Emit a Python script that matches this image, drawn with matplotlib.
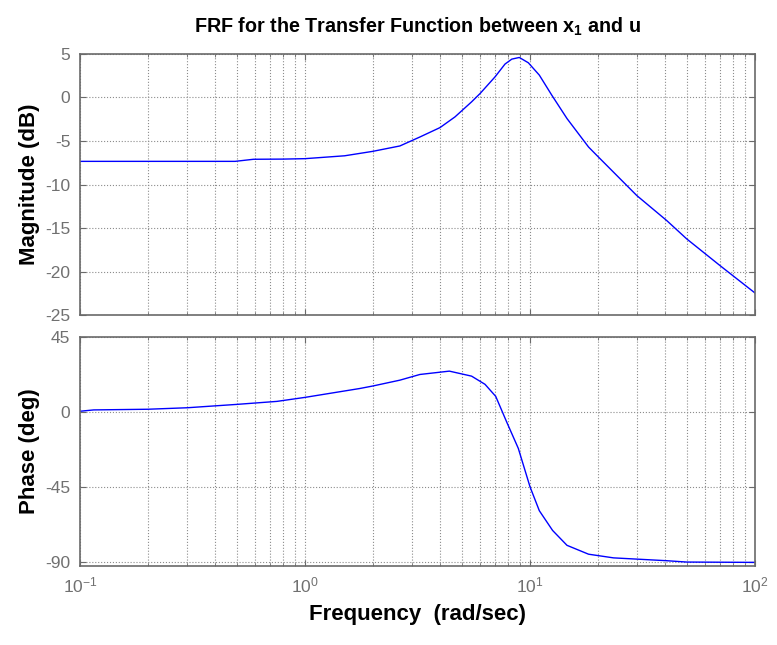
import numpy as np
import matplotlib
matplotlib.use("Agg")
import matplotlib.pyplot as plt
from matplotlib.ticker import LogLocator, NullFormatter, FixedLocator

plt.rcParams['font.family'] = ['Liberation Sans', 'DejaVu Sans']
plt.rcParams['mathtext.fontset'] = 'custom'
plt.rcParams['mathtext.rm'] = 'Liberation Sans'
plt.rcParams['mathtext.bf'] = 'Liberation Sans:bold'
plt.rcParams['axes.unicode_minus'] = False

# magnitude curve
mag_freq = [0.1, 0.2, 0.3, 0.489, 0.59, 0.8, 1.0, 1.5, 2.0, 2.64, 3.24, 3.98, 4.64,
            5.5, 6.0, 6.99, 7.74, 8.3, 8.96, 9.83, 11.0, 12.5, 14.6, 18.2, 19.8,
            29.8, 40.5, 49.7, 69.9, 100]
mag_db = [-7.34, -7.34, -7.34, -7.34, -7.1, -7.08, -7.03, -6.7, -6.19, -5.57, -4.54,
          -3.46, -2.23, -0.5, 0.46, 2.37, 3.84, 4.41, 4.6, 3.99, 2.57, 0.26, -2.42,
          -5.69, -6.65, -11.26, -14.14, -16.25, -19.32, -22.47]

# phase curve
ph_freq = [0.1, 0.115, 0.2, 0.3, 0.497, 0.75, 1.0, 1.75, 2.0, 2.64, 3.24, 4.38, 5.5,
           6.31, 7.04, 7.88, 8.87, 10.0, 11.0, 12.6, 14.6, 18.2, 23.5, 40.5, 49.7, 100]
ph_deg = [0.4, 1.2, 1.6, 2.5, 4.5, 6.3, 8.7, 14.0, 15.5, 19.0, 22.4, 24.4, 21.4,
          16.5, 9.3, -6.1, -21.8, -44.8, -59.1, -70.9, -79.8, -85.1, -87.3, -89.0,
          -89.8, -90.0]

mag_ticks = [5, 0, -5, -10, -15, -20, -25]
ph_ticks = [45, 0, -45, -90]

fig = plt.figure(figsize=(7.77, 6.45), dpi=100)
ax1 = fig.add_axes([0.103, 0.5116, 0.8687, 0.4047])
ax2 = fig.add_axes([0.103, 0.1229, 0.8687, 0.3551])

edge = '#6a6a6a'
for ax in (ax1, ax2):
    ax.set_xscale('log')
    ax.set_xlim(0.1, 100)
    ax.xaxis.set_major_locator(LogLocator(base=10, numticks=10))
    ax.xaxis.set_minor_locator(LogLocator(base=10, subs=np.arange(2, 10), numticks=10))
    ax.xaxis.set_minor_formatter(NullFormatter())
    ax.grid(True, which='both', axis='x', color='#8c8c8c', linestyle=':', linewidth=0.8)
    ax.grid(True, which='major', axis='y', color='#8c8c8c', linestyle=':', linewidth=0.8)
    ax.tick_params(which='both', direction='in', top=True, right=True,
                   colors=edge, labelcolor='#707070', labelsize=12.5)
    ax.tick_params(which='major', length=4, pad=7)
    ax.tick_params(which='minor', length=2.5)
    for s in ax.spines.values():
        s.set_color(edge)
        s.set_linewidth(1.2)

ax1.plot(mag_freq, mag_db, color='#0000ff', linewidth=1.0)
ax1.set_ylim(-25, 5)
ax1.yaxis.set_major_locator(FixedLocator(mag_ticks))
ax1.tick_params(axis='x', labelbottom=False)
ax1.set_ylabel('Magnitude (dB)', fontsize=16, fontweight='bold', labelpad=4)
ax1.set_title('FRF for the Transfer Function between x$_\\mathbf{1}$ and u',
              fontsize=14.2, fontweight='bold', pad=15)

ax2.plot(ph_freq, ph_deg, color='#0000ff', linewidth=1.0)
ax2.set_ylim(-92, 45)
ax2.yaxis.set_major_locator(FixedLocator(ph_ticks))
ax2.set_ylabel('Phase (deg)', fontsize=16, fontweight='bold', labelpad=4)
ax2.set_xlabel('Frequency  (rad/sec)', fontsize=16, fontweight='bold', labelpad=6)

fig.align_ylabels([ax1, ax2])
fig.savefig('out.png', dpi=100)
